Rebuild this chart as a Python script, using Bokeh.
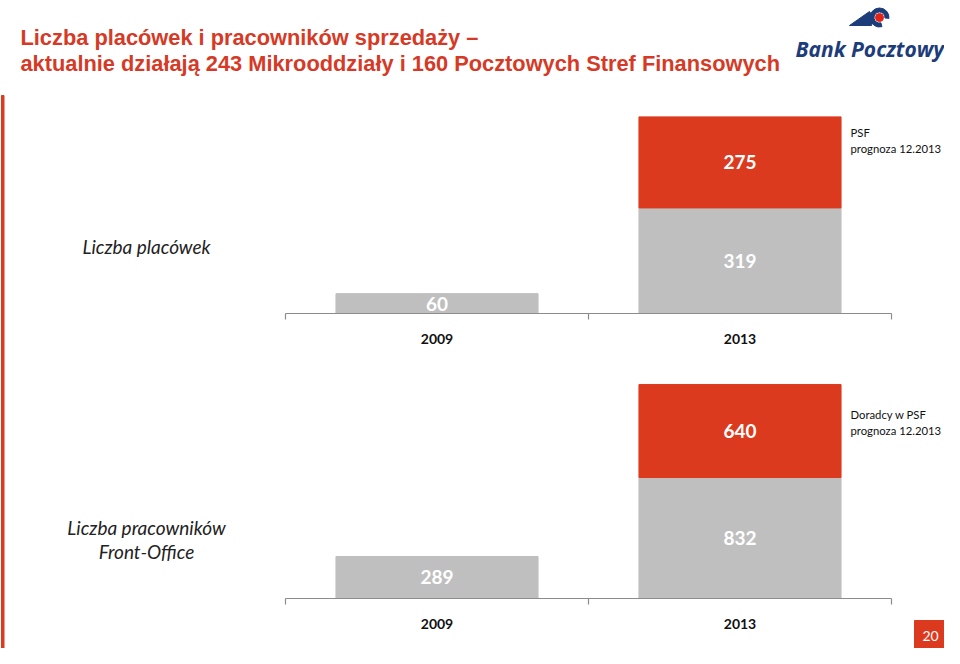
from bokeh.plotting import figure
from bokeh.models import Range1d
from bokeh.core.properties import value
from bokeh.embed import file_html
from bokeh.resources import INLINE

# ---------------- data ----------------
categories = ["2009", "2013"]
outlets_base = [60, 319]          # Liczba placówek (gray)
outlets_psf = [0, 275]            # PSF prognoza 12.2013 (red)
staff_base = [289, 832]           # Liczba pracowników Front-Office (gray)
staff_psf = [0, 640]              # Doradcy w PSF prognoza 12.2013 (red)

title_lines = ["Liczba placówek i pracowników sprzedaży –",
               "aktualnie działają 243 Mikrooddziały i 160 Pocztowych Stref Finansowych"]
chart1_label = ["Liczba placówek"]
chart2_label = ["Liczba pracowników", "Front-Office"]
legend1 = ["PSF", "prognoza 12.2013"]
legend2 = ["Doradcy w PSF", "prognoza 12.2013"]
page_no = "20"

# ---------------- styles / layout ----------------
W, H = 944, 648
RED = "#DC3A1E"
TITLE_RED = "#D63A26"
GRAY = "#BFBFBF"
AXIS = "#8C8C8C"
NAVY = "#1D3C7A"
BODY_FONT = value("Lato")

# category band placement (screen px)
band_left, band_right = 285, 891
band_px = (band_right - band_left) / len(categories)
bar_w = 0.667

# chart 1: baseline and px per unit
c1_base, c1_k = 313, 0.331
# chart 2
c2_base, c2_k = 598, 0.1454

p = figure(width=W, height=H, output_backend="svg", toolbar_location=None,
           x_range=Range1d(0, W), y_range=Range1d(H, 0),
           min_border=0, outline_line_color=None)
p.axis.visible = False
p.grid.visible = False
p.background_fill_color = "white"
p.border_fill_color = "white"

p.extra_x_ranges = {"cx": Range1d(-band_left / band_px, (W - band_left) / band_px)}
p.extra_y_ranges = {
    "c1": Range1d((c1_base - H) / c1_k, c1_base / c1_k),
    "c2": Range1d((c2_base - H) / c2_k, c2_base / c2_k),
}

xs = [i + 0.5 for i in range(len(categories))]

def draw_chart(base_vals, top_vals, yname, base_px, legend, legend_y, left_label, left_y):
    p.vbar(x=xs, width=bar_w, bottom=0, top=base_vals, color=GRAY,
           x_range_name="cx", y_range_name=yname)
    rx = [x for x, t in zip(xs, top_vals) if t > 0]
    rb = [b for b, t in zip(base_vals, top_vals) if t > 0]
    rt = [b + t for b, t in zip(base_vals, top_vals) if t > 0]
    p.vbar(x=rx, width=bar_w, bottom=rb, top=rt, color=RED,
           x_range_name="cx", y_range_name=yname)
    # value labels (centered in segments)
    p.text(x=xs, y=[b / 2 for b in base_vals], text=[str(v) for v in base_vals],
           x_range_name="cx", y_range_name=yname, text_align="center",
           text_baseline="middle", text_color="white", text_font=BODY_FONT,
           text_font_style="bold", text_font_size="19px")
    ly = [b + t / 2 for b, t in zip(base_vals, top_vals) if t > 0]
    lt = [str(t) for t in top_vals if t > 0]
    p.text(x=rx, y=ly, text=lt, x_range_name="cx", y_range_name=yname,
           text_align="center", text_baseline="middle", text_color="white",
           text_font=BODY_FONT, text_font_style="bold", text_font_size="19px")
    # axis line and ticks at band boundaries
    p.segment(x0=[0], y0=[base_px], x1=[len(categories)], y1=[base_px],
              x_range_name="cx", line_color=AXIS, line_width=1.2)
    ticks = list(range(len(categories) + 1))
    p.segment(x0=ticks, y0=[base_px] * len(ticks), x1=ticks, y1=[base_px + 6] * len(ticks),
              x_range_name="cx", line_color=AXIS, line_width=1.2)
    # category labels
    p.text(x=xs, y=[base_px + 25] * len(xs), text=categories, x_range_name="cx",
           text_align="center", text_baseline="middle", text_color="#111111",
           text_font=BODY_FONT, text_font_style="bold", text_font_size="14px")
    # legend text right of the red bar
    p.text(x=[850, 850], y=legend_y, text=legend, text_align="left",
           text_baseline="middle", text_color="#111111", text_font=BODY_FONT,
           text_font_size="11.3px")
    # left label
    p.text(x=[146] * len(left_label), y=[left_y + 24 * i for i in range(len(left_label))],
           text=left_label, text_align="center", text_baseline="middle",
           text_color="#222222", text_font=BODY_FONT, text_font_style="italic",
           text_font_size="19px")

draw_chart(outlets_base, outlets_psf, "c1", c1_base, legend1, [132, 148], chart1_label, 246)
draw_chart(staff_base, staff_psf, "c2", c2_base, legend2, [414, 430], chart2_label, 527)

# ---------------- slide decorations ----------------
p.text(x=[20, 20], y=[37, 63], text=title_lines, text_align="left",
       text_baseline="alphabetic", text_color=TITLE_RED,
       text_font=value("Liberation Sans"), text_font_style="bold", text_font_size="21.8px")

# left red rule
p.quad(left=[1], right=[3.5], top=[95], bottom=[H], color=RED)

# logo (eye emblem + wordmark)
p.patches(xs=[[849, 869, 873, 871]], ys=[[25, 11, 17, 25]], color=NAVY)
p.annular_wedge(x=[879], y=[17], inner_radius=5.5, outer_radius=9.5,
                start_angle=-0.09, end_angle=4.97, color=NAVY)
p.scatter(x=[879], y=[17], size=8, color="#E2231A")
p.text(x=[795], y=[48], text=["Bank Pocztowy"], text_align="left",
       text_baseline="alphabetic", text_color=NAVY, text_font=value("Open Sans"),
       text_font_style="bold italic", text_font_size="21px")

# page number box
p.quad(left=[914], right=[944], top=[620], bottom=[648], color=RED)
p.text(x=[930], y=[635], text=[page_no], text_align="center", text_baseline="middle",
       text_color="white", text_font=BODY_FONT, text_font_size="14px")

open("out.html", "w").write(file_html(p, INLINE))
